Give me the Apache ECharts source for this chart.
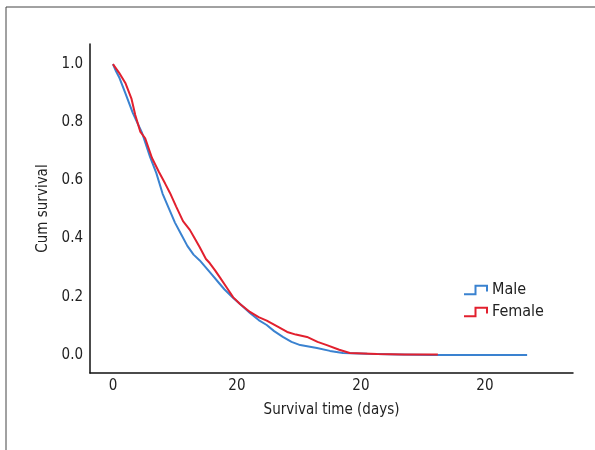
<!DOCTYPE html>
<html>
<head>
<meta charset="utf-8">
<script src="https://cdn.jsdelivr.net/npm/echarts@6/dist/echarts.min.js"></script>
<style>
  html, body { margin: 0; padding: 0; background: #fff; }
  #chart { width: 595px; height: 450px; }
</style>
</head>
<body>
<div id="chart"></div>
<script>
// survival time (days), cumulative survival
var maleData = [
  [0, 1.0], [0.5, 0.975], [1, 0.955], [2, 0.9], [3.2, 0.832], [4.7, 0.763],
  [6, 0.68], [7, 0.625], [8, 0.555], [9, 0.505], [10, 0.455], [11, 0.415],
  [12, 0.375], [13, 0.345], [14, 0.325], [15, 0.3], [16, 0.275], [17, 0.25],
  [18, 0.225], [19.4, 0.196], [20.5, 0.175], [22.1, 0.144], [23.5, 0.12],
  [24.8, 0.103], [26, 0.082], [27.4, 0.062], [28.8, 0.045], [30.2, 0.034],
  [32.9, 0.024], [35, 0.014], [37.1, 0.007], [41, 0.004], [46, 0.002],
  [51.6, 0.0], [60, 0.0], [66.8, 0.0]
];
var femaleData = [
  [0, 1.0], [1, 0.97], [2, 0.935], [3, 0.88], [3.6, 0.825], [4.4, 0.768],
  [5.2, 0.745], [6.3, 0.677], [7.4, 0.63], [8.4, 0.59], [9.2, 0.557],
  [10.2, 0.51], [11.3, 0.46], [12.4, 0.43], [13.2, 0.4], [14, 0.37],
  [15, 0.33], [15.6, 0.316], [16.5, 0.29], [17.3, 0.265], [18.4, 0.23],
  [19.4, 0.198], [20.5, 0.175], [22.1, 0.148], [23.5, 0.13], [24.8, 0.118],
  [26.5, 0.098], [28.1, 0.079], [29.5, 0.07], [31.3, 0.062], [33, 0.045],
  [34.5, 0.034], [36.5, 0.018], [38.2, 0.007], [42.6, 0.003], [47, 0.002],
  [52.4, 0.002]
];
var xTickValues = [0, 20, 40, 60];
var xTickLabels = ['0', '20', '20', '20'];
var yTickValues = [0, 0.2, 0.4, 0.6, 0.8, 1.0];

var maleColor = '#3a82d0';
var femaleColor = '#e2202e';
var font = '"DejaVu Sans Condensed", "Roboto", sans-serif';
var stepIcon = 'path://M0,10 L12,10 L12,1 L24,1 L24,7';

var myChart = echarts.init(document.getElementById('chart'));
var option = {
  backgroundColor: '#fff',
  animation: false,
  graphic: [{
    type: 'rect',
    shape: { x: 6, y: 7, width: 640, height: 500 },
    style: { fill: 'none', stroke: '#444', lineWidth: 1 },
    silent: true
  }],
  legend: {
    orient: 'vertical',
    left: 463,
    top: 282,
    padding: 0,
    itemWidth: 23,
    itemHeight: 9,
    itemGap: 6,
    textStyle: { fontFamily: font, fontSize: 16, color: '#222' },
    data: [
      { name: 'Male', icon: stepIcon,
        itemStyle: { color: 'rgba(0,0,0,0)', borderColor: maleColor, borderWidth: 2 } },
      { name: 'Female', icon: stepIcon,
        itemStyle: { color: 'rgba(0,0,0,0)', borderColor: femaleColor, borderWidth: 2 } }
    ]
  },
  grid: { left: 90, top: 44, right: 22, bottom: 77 },
  xAxis: {
    type: 'value',
    min: -3.7,
    max: 74.2,
    name: 'Survival time (days)',
    nameLocation: 'middle',
    nameGap: 30,
    nameTextStyle: { fontFamily: font, fontSize: 15, color: '#222' },
    axisLine: { onZero: false, lineStyle: { color: '#111', width: 1.5 } },
    axisTick: { show: false },
    splitLine: { show: false },
    axisLabel: {
      customValues: xTickValues,
      margin: 6,
      fontFamily: font, fontSize: 15, color: '#222',
      formatter: function (v) {
        var i = xTickValues.indexOf(v);
        return i >= 0 ? xTickLabels[i] : '';
      }
    }
  },
  yAxis: {
    type: 'value',
    min: -0.062,
    max: 1.069,
    name: 'Cum survival',
    nameLocation: 'middle',
    nameGap: 38,
    nameTextStyle: { fontFamily: font, fontSize: 15, color: '#222' },
    axisLine: { show: true, onZero: false, lineStyle: { color: '#111', width: 1.5 } },
    axisTick: { show: false },
    splitLine: { show: false },
    axisLabel: {
      customValues: yTickValues,
      margin: 7,
      fontFamily: font, fontSize: 15, color: '#222',
      formatter: function (v) { return v.toFixed(1); }
    }
  },
  series: [{
    name: 'Male',
    type: 'line',
    showSymbol: false,
    symbol: 'none',
    color: maleColor,
    lineStyle: { width: 2, color: maleColor },
    data: maleData
  }, {
    name: 'Female',
    type: 'line',
    showSymbol: false,
    symbol: 'none',
    color: femaleColor,
    lineStyle: { width: 2, color: femaleColor },
    data: femaleData
  }]
};
myChart.setOption(option);
</script>
</body>
</html>
